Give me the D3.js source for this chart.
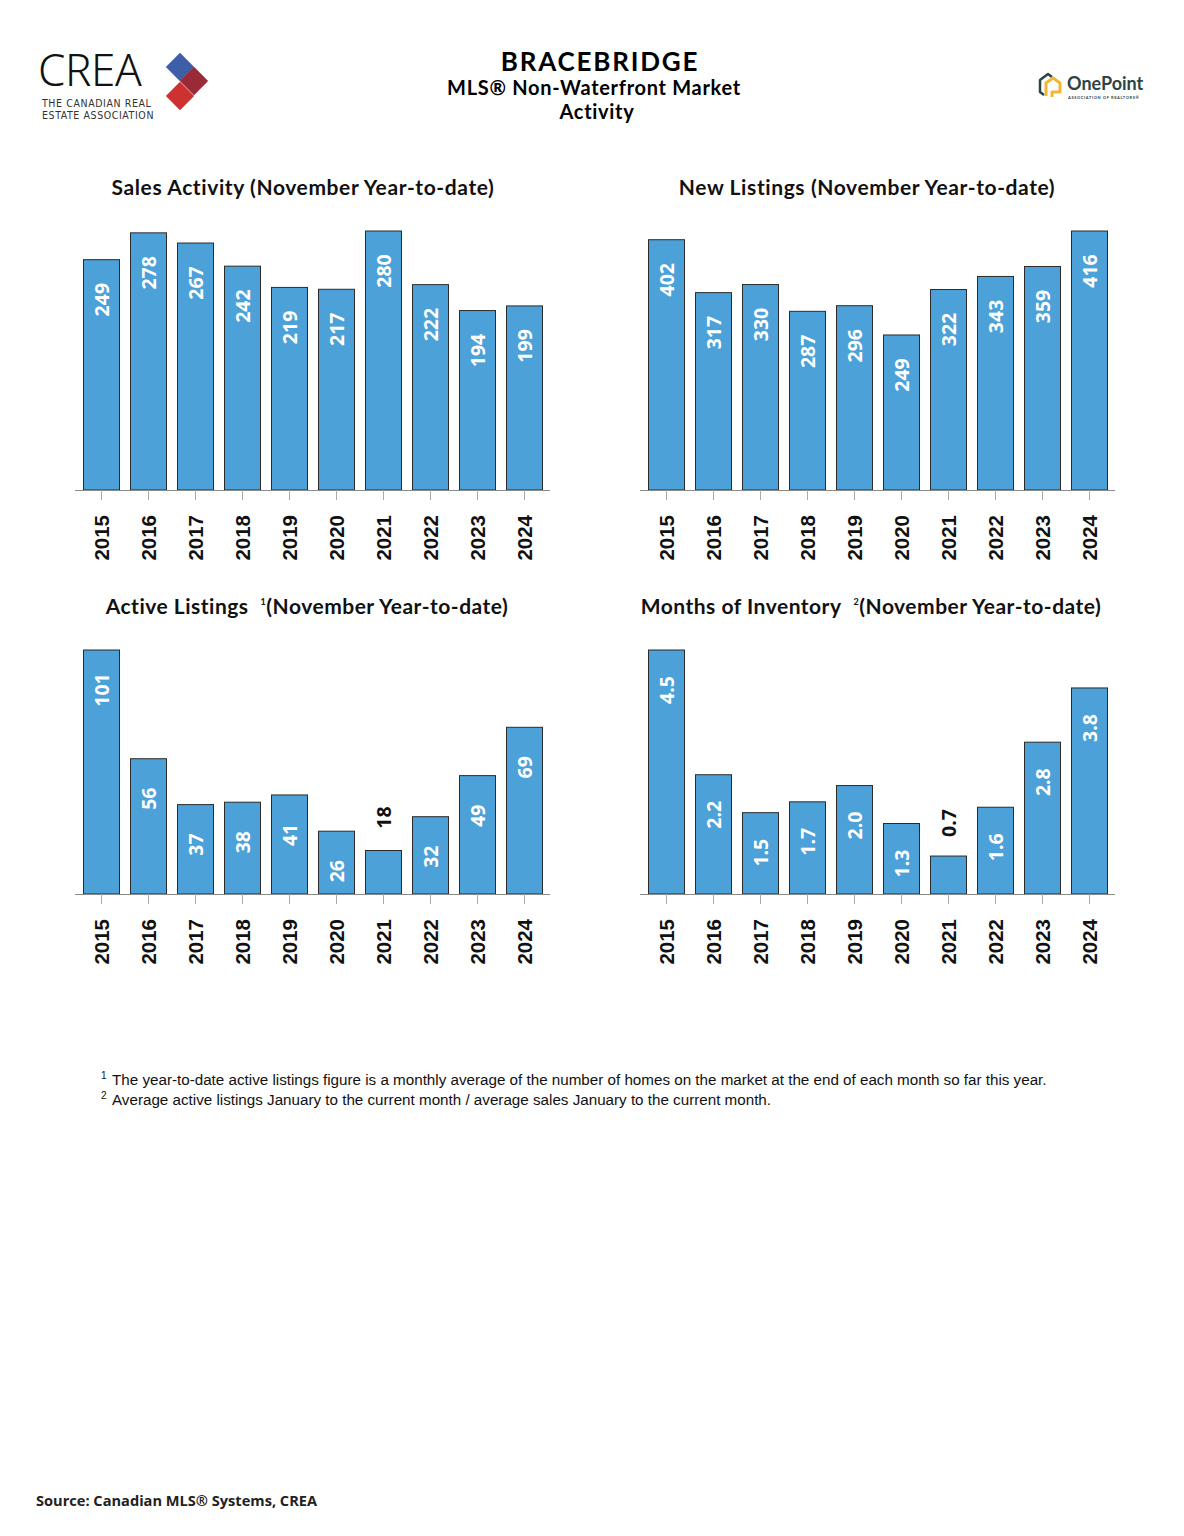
<!DOCTYPE html>
<html>
<head>
<meta charset="utf-8">
<script src="https://cdn.jsdelivr.net/npm/d3@7"></script>
<style>
  body { margin: 0; background: #fff; }
  svg { display: block; }
</style>
</head>
<body>
<script>
// Bracebridge market activity - four bar panels

var years = ["2015", "2016", "2017", "2018", "2019", "2020", "2021", "2022", "2023", "2024"];
var sales = [249, 278, 267, 242, 219, 217, 280, 222, 194, 199];
var newListings = [402, 317, 330, 287, 296, 249, 322, 343, 359, 416];
var activeListings = [101, 56, 37, 38, 41, 26, 18, 32, 49, 69];
var monthsInventory = [4.5, 2.2, 1.5, 1.7, 2.0, 1.3, 0.7, 1.6, 2.8, 3.8];

var width = 1184, height = 1536;
var barFill = "#4ba1d8";

var svg = d3.select("body")
    .append("svg")
    .attr("width", width)
    .attr("height", height);

// ---- header ----
var header = svg.append("g").attr("font-family", "Lato, 'Noto Sans', sans-serif").attr("text-anchor", "middle");
header.append("text").attr("x", 600).attr("y", 71).attr("font-size", 26).attr("font-weight", 700)
    .attr("letter-spacing", 1.8).text("BRACEBRIDGE");
header.append("text").attr("x", 594).attr("y", 95).attr("font-size", 20).attr("font-weight", 700)
    .attr("letter-spacing", 0.7).text("MLS® Non-Waterfront Market");
header.append("text").attr("x", 597).attr("y", 119).attr("font-size", 20).attr("font-weight", 700)
    .attr("letter-spacing", 0.7).text("Activity");

// CREA logo
var crea = svg.append("g");
crea.append("text").attr("x", 38).attr("y", 86).attr("font-family", "'Noto Sans', sans-serif")
    .attr("font-size", 44).attr("font-weight", 300).attr("letter-spacing", -0.4).attr("fill", "#111").text("CREA");
crea.append("text").attr("x", 42).attr("y", 107).attr("font-family", "'DejaVu Sans Condensed', sans-serif")
    .attr("font-size", 10.5).attr("letter-spacing", 0.6).attr("fill", "#333").text("THE CANADIAN REAL");
crea.append("text").attr("x", 42).attr("y", 119).attr("font-family", "'DejaVu Sans Condensed', sans-serif")
    .attr("font-size", 10.5).attr("letter-spacing", 0.6).attr("fill", "#333").text("ESTATE ASSOCIATION");
[[180, 67, "#3e5ea8"], [194, 81, "#9a2a36"], [180, 96, "#cd3130"]].forEach(function (d) {
    crea.append("rect").attr("x", -10).attr("y", -10).attr("width", 20).attr("height", 20)
        .attr("fill", d[2]).attr("transform", "translate(" + d[0] + "," + d[1] + ") rotate(45)");
});

// OnePoint logo
var op = svg.append("g");
op.append("path").attr("d", "M1044,95 L1040,92 L1040,80 L1048,74 L1052,77").attr("fill", "none")
    .attr("stroke", "#2c4446").attr("stroke-width", 2.5).attr("stroke-linejoin", "round");
op.append("path").attr("d", "M1046,96 L1046,83 L1053,78 L1060,83 L1060,92 L1052,92 L1052,97")
    .attr("fill", "none").attr("stroke", "#f2b632").attr("stroke-width", 3).attr("stroke-linejoin", "round");
op.append("text").attr("x", 1067).attr("y", 90).attr("font-family", "Lato, sans-serif").attr("font-size", 18)
    .attr("font-weight", 700).attr("fill", "#2c4446").text("OnePoint");
op.append("text").attr("x", 1068).attr("y", 98.5).attr("font-family", "Lato, sans-serif").attr("font-size", 4)
    .attr("font-weight", 700).attr("letter-spacing", 0.6).attr("fill", "#2c4446").text("ASSOCIATION OF REALTORS®");

// ---- panels ----
var panels = [
    { title: "Sales Activity (November Year-to-date)", sup: null, values: sales, fmt: d3.format("d"),
      x0: 78, titleX: 303, top: 231, base: 490, titleY: 195 },
    { title: "New Listings (November Year-to-date)", sup: null, values: newListings, fmt: d3.format("d"),
      x0: 643, titleX: 867, top: 231, base: 490, titleY: 195 },
    { title: "Active Listings", sup: "1", rest: "(November Year-to-date)", values: activeListings, fmt: d3.format("d"),
      x0: 78, titleX: 307, top: 650, base: 894, titleY: 614 },
    { title: "Months of Inventory", sup: "2", rest: "(November Year-to-date)", values: monthsInventory, fmt: d3.format(".1f"),
      x0: 643, titleX: 871, top: 650, base: 894, titleY: 614 }
];

panels.forEach(drawPanel);

function drawPanel(p) {
    var g = svg.append("g");

    var x = d3.scaleBand()
        .domain(years)
        .range([p.x0, p.x0 + 470])
        .paddingInner(0.234)
        .paddingOuter(0.117);

    var y = d3.scaleLinear()
        .domain([0, d3.max(p.values)])
        .range([p.base, p.top]);

    // title
    var t = g.append("text")
        .attr("x", p.titleX).attr("y", p.titleY)
        .attr("text-anchor", "middle")
        .attr("font-family", "Lato, 'Noto Sans', sans-serif")
        .attr("font-size", 21).attr("font-weight", 700)
        .attr("letter-spacing", p.sup ? 0.5 : 0.6)
        .attr("fill", "#111");
    t.append("tspan").text(p.title);
    if (p.sup) {
        t.append("tspan").attr("dx", 12).attr("dy", -9).attr("font-size", 9).text(p.sup);
        t.append("tspan").attr("dy", 9).text(p.rest);
    }

    var data = years.map(function (yr, i) { return { year: yr, value: p.values[i] }; });

    // bars
    g.selectAll(".bar")
        .data(data)
        .enter()
        .append("rect")
        .attr("class", "bar")
        .attr("x", function (d) { return x(d.year); })
        .attr("y", function (d) { return y(d.value); })
        .attr("width", x.bandwidth())
        .attr("height", function (d) { return p.base - y(d.value); })
        .attr("fill", barFill)
        .attr("stroke", "#2b2b2b")
        .attr("stroke-width", 1);

    // value labels: inside (white) or above the bar when it is short (black)
    g.selectAll(".lbl")
        .data(data)
        .enter()
        .append("text")
        .attr("class", "lbl")
        .attr("transform", function (d) {
            var inside = (p.base - y(d.value)) > 55;
            var cy = inside ? y(d.value) + 40 : y(d.value) - 33;
            return "translate(" + (x(d.year) + x.bandwidth() / 2) + "," + cy + ") rotate(-90)";
        })
        .attr("text-anchor", "middle")
        .attr("dy", "0.36em")
        .attr("font-family", "'Open Sans', sans-serif")
        .attr("font-size", 19.5)
        .attr("font-weight", 700)
        .attr("fill", function (d) { return (p.base - y(d.value)) > 55 ? "#fff" : "#111"; })
        .text(function (d) { return p.fmt(d.value); });

    // x axis
    var xAxis = d3.axisBottom(x).tickSize(10).tickSizeOuter(0);
    var ax = g.append("g")
        .attr("transform", "translate(0," + p.base + ")")
        .call(xAxis);
    ax.select(".domain").attr("d", "M" + (p.x0 - 3) + ",0.5H" + (p.x0 + 472)).attr("stroke", "#8a8a8a");
    ax.selectAll(".tick line").attr("stroke", "#aaa");
    ax.selectAll(".tick text")
        .attr("transform", "translate(0,25) rotate(-90)")
        .attr("x", 0).attr("y", 0)
        .attr("dy", "0.36em")
        .attr("text-anchor", "end")
        .attr("font-family", "'Liberation Sans', Arial, sans-serif")
        .attr("font-size", 20.5)
        .attr("font-weight", 700)
        .attr("fill", "#111");
}

// ---- footnotes ----
var notes = svg.append("g").attr("font-family", "'Liberation Sans', Arial, sans-serif").attr("fill", "#111");
notes.append("text").attr("x", 101).attr("y", 1079).attr("font-size", 10).text("1");
notes.append("text").attr("x", 112).attr("y", 1085).attr("font-size", 15.2)
    .text("The year-to-date active listings figure is a monthly average of the number of homes on the market at the end of each month so far this year.");
notes.append("text").attr("x", 101).attr("y", 1099).attr("font-size", 10).text("2");
notes.append("text").attr("x", 112).attr("y", 1105).attr("font-size", 15.2)
    .text("Average active listings January to the current month / average sales January to the current month.");

svg.append("text").attr("x", 36).attr("y", 1506)
    .attr("font-family", "'Open Sans', sans-serif").attr("font-size", 14.6).attr("font-weight", 700)
    .attr("fill", "#222")
    .text("Source: Canadian MLS® Systems, CREA");
</script>
</body>
</html>
